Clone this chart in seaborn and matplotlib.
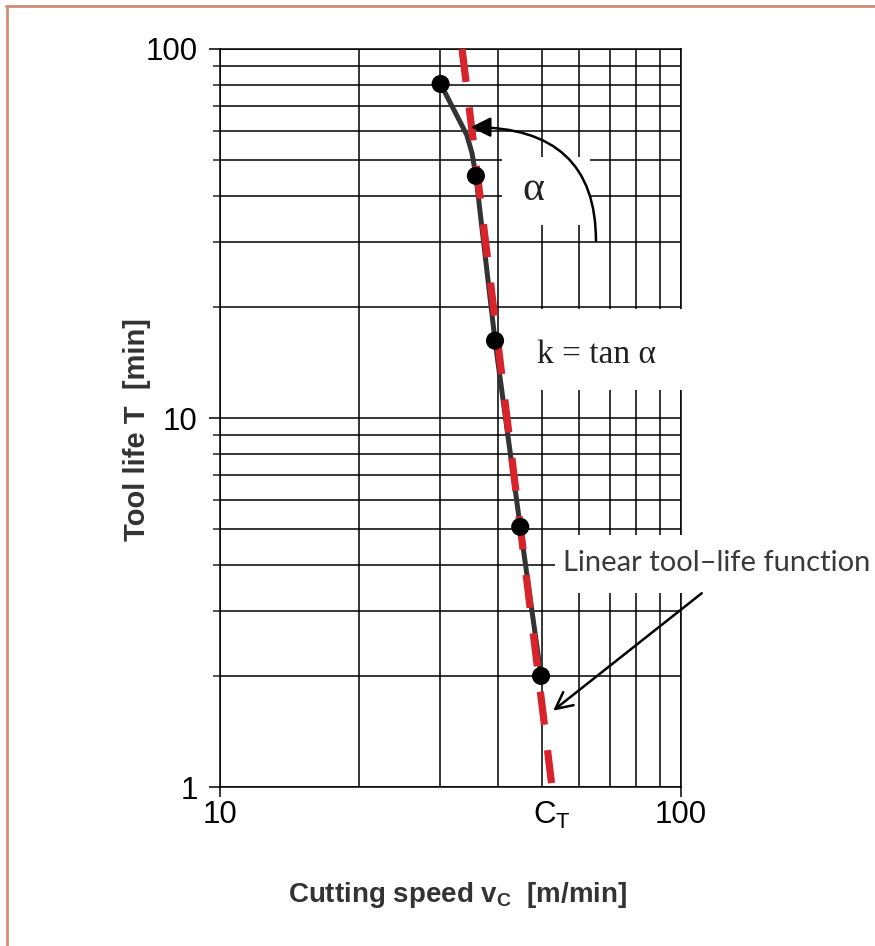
import numpy as np
import pandas as pd
import seaborn as sns
import matplotlib.pyplot as plt
from matplotlib.lines import Line2D
from matplotlib.patches import Rectangle
from matplotlib.ticker import LogLocator, NullFormatter, FixedLocator

# -----------------------------
# DATA
# -----------------------------
curve_speed = [30.1, 34.3, 35.2, 35.9, 39.5, 44.8, 49.7]   # m/min, measured curve incl. bend
curve_life = [80.4, 58.5, 52.3, 45.3, 16.2, 5.07, 2.0]    # min
dot_speed = [30.1, 35.9, 39.5, 44.8, 49.7]
dot_life = [80.4, 45.3, 16.2, 5.07, 2.0]
fit_speed = [33.5, 52.5]                                   # linear tool-life function
fit_life = [100, 1]
c_t = 52.5
x_ticks = [10, c_t, 100]
x_ticklabels = ['10', 'C$_\\mathregular{T}$', '100']
y_ticks = [1, 10, 100]
y_ticklabels = ['1', '10', '100']

curve_df = pd.DataFrame({'speed': curve_speed, 'life': curve_life})
dot_df = pd.DataFrame({'speed': dot_speed, 'life': dot_life})
fit_df = pd.DataFrame({'speed': fit_speed, 'life': fit_life})

# -----------------------------
# STYLE
# -----------------------------
sns.set_theme(style='white')
sans = ['Liberation Sans', 'DejaVu Sans']
plt.rcParams['font.family'] = sans
plt.rcParams['mathtext.default'] = 'regular'

fig = plt.figure(figsize=(8.75, 9.46), dpi=100)
ax = fig.add_axes([220 / 875, 1 - 787 / 946, 461 / 875, 738 / 946])

ax.set_xscale('log')
ax.set_yscale('log')
ax.set_xlim(10, 100)
ax.set_ylim(1, 100)

# -----------------------------
# LINES AND POINTS
# -----------------------------
sns.lineplot(data=curve_df, x='speed', y='life', sort=False, estimator=None,
             color='#333333', lw=3.6, zorder=3, solid_joinstyle='round', ax=ax)
sns.lineplot(data=fit_df, x='speed', y='life', sort=False, estimator=None,
             color='#d7242b', lw=5.2, linestyle=(0, (4.6, 3.55)), zorder=3.5, ax=ax)
sns.scatterplot(data=dot_df, x='speed', y='life', s=170, color='black',
                edgecolor='none', zorder=4, ax=ax)

# -----------------------------
# AXES, GRID, TICKS
# -----------------------------
ax.set_axisbelow(True)
ax.grid(True, which='both', color='black', lw=1.1)
for sp in ax.spines.values():
    sp.set_color('black')
    sp.set_linewidth(1.1)

ax.xaxis.set_major_locator(FixedLocator(x_ticks))
ax.set_xticklabels(x_ticklabels)
ax.xaxis.set_minor_locator(LogLocator(base=10, subs=np.arange(2, 10)))
ax.xaxis.set_minor_formatter(NullFormatter())
ax.yaxis.set_major_locator(FixedLocator(y_ticks))
ax.set_yticklabels(y_ticklabels)
ax.yaxis.set_minor_locator(LogLocator(base=10, subs=np.arange(2, 10)))
ax.yaxis.set_minor_formatter(NullFormatter())

ax.tick_params(axis='y', which='major', length=8, width=1.1, direction='out',
               pad=8, labelsize=22.5, colors='black', left=True)
ax.tick_params(axis='y', which='minor', length=5, width=1.1, direction='out', left=True)
ax.tick_params(axis='x', which='major', length=7, width=1.1, direction='out',
               pad=2, labelsize=22.5, colors='black', bottom=True)
ax.tick_params(axis='x', which='minor', length=0, bottom=True)

# C_T carries a label only: no tick, no grid line
ct_tick = ax.xaxis.get_major_ticks()[1]
ct_tick.tick1line.set_visible(False)
ct_tick.gridline.set_visible(False)

label_font = dict(fontsize=20, fontweight='bold', color='#333333', family=sans)
ax.set_xlabel('Cutting speed v$_\\mathregular{C}$  [m/min]', **label_font)
ax.set_ylabel('Tool life T  [min]', fontsize=21, fontweight='bold', color='#333333',
              family=sans)
ax.xaxis.set_label_coords(0.516, -0.126)
ax.yaxis.set_label_coords(-0.15, 0.484)

# -----------------------------
# ANNOTATIONS
# -----------------------------
# white boxes that break the grid behind the labels
for (bx, by, bw, bh) in [(0.612, 0.7615, 0.191, 0.092),
                         (0.633, 0.538, 0.40, 0.11),
                         (0.727, 0.263, 0.70, 0.079)]:
    ax.add_patch(Rectangle((bx, by), bw, bh, transform=ax.transAxes, fc='white',
                           ec='none', zorder=2.6, clip_on=False))

ax.text(47.8, 41.5, 'α', fontsize=30, family=['Liberation Serif'], color='#222222',
        ha='center', va='center', zorder=6)
ax.text(65.7, 14.8, 'k = tan α', fontsize=24, family=['Liberation Serif'],
        color='#222222', ha='center', va='center', zorder=6)
ax.text(55.5, 4.05, 'Linear tool\u2013life function', fontsize=21, family=['Lato'],
        color='#3a3a3a', ha='left', va='center', zorder=6, clip_on=False)

ax.annotate('', xy=(35.0, 61.4), xytext=(65.4, 30.2),
            arrowprops=dict(arrowstyle='-|>', color='black', lw=1.8, mutation_scale=30,
                            shrinkA=0, shrinkB=0,
                            connectionstyle='angle3,angleA=90,angleB=0'),
            zorder=5)
ax.annotate('', xy=(52.8, 1.61), xytext=(110.9, 3.35),
            arrowprops=dict(arrowstyle='->', color='black', lw=1.8, mutation_scale=30,
                            shrinkA=0, shrinkB=0),
            zorder=5, annotation_clip=False)

# -----------------------------
# FRAME
# -----------------------------
fig.add_artist(Line2D([6 / 875, 1], [1 - 6 / 946] * 2, transform=fig.transFigure,
                      color='#d48a76', lw=2))
fig.add_artist(Line2D([6.5 / 875] * 2, [0, 1 - 6 / 946], transform=fig.transFigure,
                      color='#d48a76', lw=2))

fig.savefig('out.png', dpi=100)
